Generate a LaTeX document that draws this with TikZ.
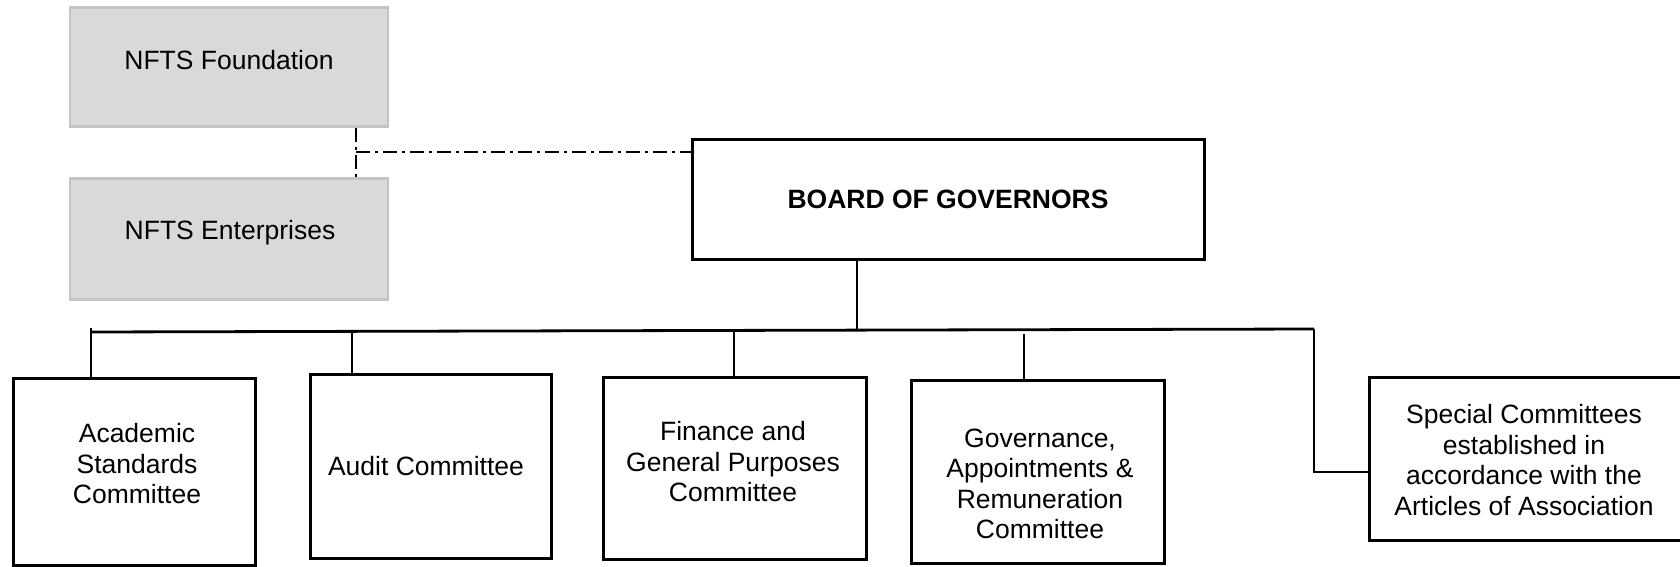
\documentclass[tikz,border=0pt]{standalone}
\usepackage{fontspec}
\setmainfont{Liberation Sans}
\definecolor{boxgray}{HTML}{D9D9D9}
\definecolor{edgegray}{HTML}{C4C4C4}
\begin{document}
\begin{tikzpicture}[x=1pt,y=-1pt,
  box/.style={draw=black, line width=3pt, inner sep=0pt, fill=white},
  graybox/.style={draw=edgegray, fill=boxgray, line width=2.2pt, inner sep=0pt},
  txt/.style={font=\fontsize{26.5}{30.5}\selectfont, align=center, inner sep=0pt, text=black},
  conn/.style={line width=2.8pt},
  dashdot/.style={line width=2.6pt, dash pattern=on 14pt off 5pt on 3pt off 5pt},
]
\useasboundingbox (0,0) rectangle (1680,567);

% gray entities
\node[graybox, minimum width=318pt, minimum height=119pt] (found) at (229,67) {};
\node[txt] (foundt) at (229,60) {NFTS Foundation};
\node[graybox, minimum width=318pt, minimum height=121pt] (ent) at (229,239) {};
\node[txt] (entt) at (230,233) {NFTS Enterprises};

% board
\node[box, minimum width=512pt, minimum height=120pt] (board) at (948,199) {};
\node[txt, font=\fontsize{26.5}{30.5}\selectfont\bfseries] (boardt) at (948,199) {BOARD OF GOVERNORS};

% committees
\node[box, minimum width=242pt, minimum height=187pt] (acad) at (134,471.5) {};
\node[txt] (acadt) at (137,464) {Academic\\Standards\\Committee};
\node[box, minimum width=241pt, minimum height=184pt] (audit) at (430.5,466) {};
\node[txt] (auditt) at (426,466) {Audit Committee};
\node[box, minimum width=263pt, minimum height=182pt] (fin) at (734.5,468) {};
\node[txt] (fint) at (733,462) {Finance and\\General Purposes\\Committee};
\node[box, minimum width=253pt, minimum height=183pt] (gov) at (1037.5,471.5) {};
\node[txt] (govt) at (1040,484) {Governance,\\Appointments \&\\Remuneration\\Committee};
\node[box, minimum width=330pt, minimum height=163pt] (spec) at (1534,458.5) {};
\node[txt] (spect) at (1524,460) {Special Committees\\established in\\accordance with the\\Articles of Association};

% bus coordinates
\coordinate (busL) at (91,332);
\coordinate (busB) at (857,331);
\coordinate (busR) at (1314,329);
\coordinate (specK) at (1314,472);

% connectors
\draw[dashdot] (found.south -| 356,0) -- (ent.north -| 356,0);
\coordinate (dj) at (356,152);
\draw[dashdot] (dj) -- (board.west |- dj);

\draw[conn] (board.south -| busB) -- (busB);
\draw[conn] (busL) -- (busR);
\draw[conn] (91,328) -- (acad.north -| 91,0);
\draw[conn] (352,330) -- (audit.north -| 352,0);
\draw[conn] (734,332) -- (fin.north -| 734,0);
\draw[conn] (1024,334) -- (gov.north -| 1024,0);
\draw[conn] (busR) -- (specK) -- (spec.west |- specK);
\end{tikzpicture}
\end{document}
